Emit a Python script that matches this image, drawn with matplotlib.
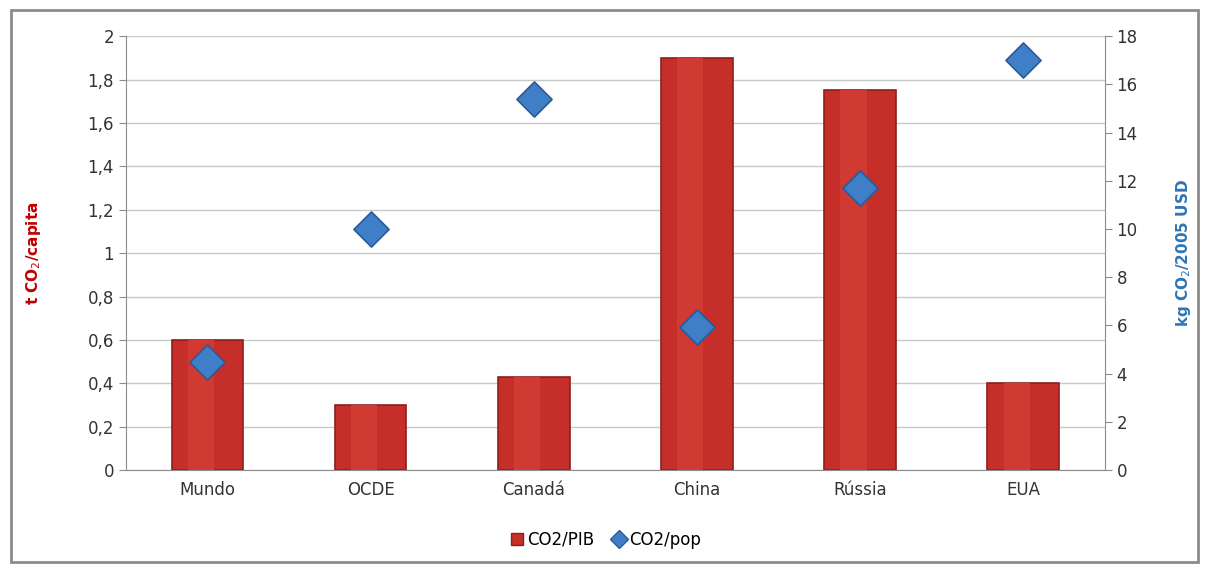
import matplotlib
matplotlib.use("Agg")
import matplotlib.pyplot as plt
from matplotlib.patches import Rectangle
from matplotlib.lines import Line2D
import numpy as np

categories = ["Mundo", "OCDE", "Canadá", "China", "Rússia", "EUA"]
co2_pib = [0.6, 0.3, 0.43, 1.9, 1.75, 0.4]      # t CO2/capita (left axis, bars)
co2_pop = [4.5, 10.0, 15.4, 5.95, 11.7, 17.0]    # kg CO2/2005 USD (right axis, diamonds)
left_ticks = [0, 0.2, 0.4, 0.6, 0.8, 1, 1.2, 1.4, 1.6, 1.8, 2]
left_labels = ["0", "0,2", "0,4", "0,6", "0,8", "1", "1,2", "1,4", "1,6", "1,8", "2"]
right_ticks = [0, 2, 4, 6, 8, 10, 12, 14, 16, 18]

plt.rcParams["font.family"] = ["DejaVu Sans"]

fig = plt.figure(figsize=(12.1, 5.65), dpi=100)
fig.patches.append(Rectangle((0.009, 0.005), 0.981, 0.978, transform=fig.transFigure,
                             fill=False, edgecolor="#8c8c8c", linewidth=2))

ax = fig.add_axes([0.104, 0.168, 0.809, 0.768])
x = np.arange(len(categories))
ax.bar(x, co2_pib, width=0.44, color="#c62f29", edgecolor="#8e1f1b", linewidth=1.2, zorder=2)
# subtle lighter strip to hint at the shaded bars
ax.bar(x - 0.04, co2_pib, width=0.16, color="#d03a33", linewidth=0, zorder=2.1)

ax.set_xlim(-0.5, len(categories) - 0.5)
ax.set_ylim(0, 2)
ax.set_yticks(left_ticks)
ax.set_yticklabels(left_labels)
ax.set_xticks(x)
ax.set_xticklabels(categories)
ax.grid(axis="y", color="#c8c8c8", linewidth=1, zorder=0)
ax.set_axisbelow(True)
for side in ["top", "right"]:
    ax.spines[side].set_visible(False)
ax.spines["left"].set_color("#8c8c8c")
ax.spines["bottom"].set_color("#8c8c8c")
ax.tick_params(axis="both", labelsize=12, colors="#8c8c8c", labelcolor="#333333", length=5)
ax.tick_params(axis="x", length=0, pad=8)
ax.set_ylabel(r"t CO$_2$/capita", color="#c00000", fontsize=11, fontweight="bold", labelpad=32)

ax2 = ax.twinx()
ax2.scatter(x, co2_pop, marker="D", s=320, color="#3f7fc8", edgecolor="#2a5a95",
            linewidth=1.2, zorder=3)
ax2.set_ylim(0, 18)
ax2.set_yticks(right_ticks)
for side in ["top", "left"]:
    ax2.spines[side].set_visible(False)
ax2.spines["right"].set_color("#8c8c8c")
ax2.spines["bottom"].set_visible(False)
ax2.tick_params(axis="y", labelsize=12, colors="#8c8c8c", labelcolor="#333333", length=5)
ax2.set_ylabel(r"kg CO$_2$/2005 USD", color="#2e75b6", fontsize=11, fontweight="bold",
               labelpad=26)

handles = [
    Line2D([], [], marker="s", linestyle="none", markersize=9, color="#c62f29",
           markeredgecolor="#8e1f1b"),
    Line2D([], [], marker="D", linestyle="none", markersize=9, color="#3f7fc8",
           markeredgecolor="#2a5a95"),
]
fig.legend(handles, ["CO2/PIB", "CO2/pop"], loc="center", bbox_to_anchor=(0.5, 0.045),
           ncol=2, frameon=False, fontsize=12, handletextpad=0.1, columnspacing=1.0,
           handlelength=1.0)

fig.savefig("out.png", dpi=100)
